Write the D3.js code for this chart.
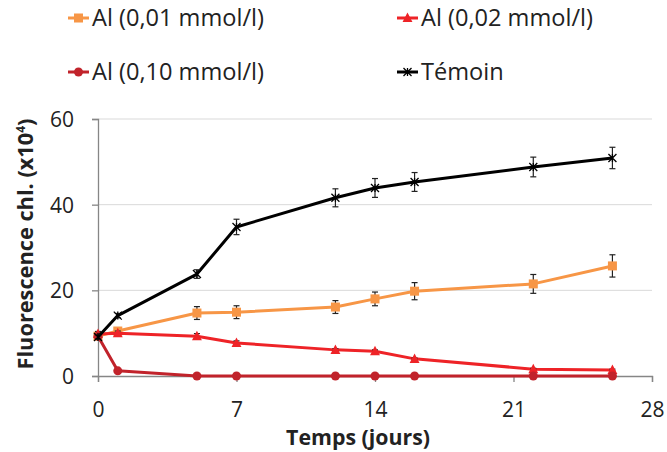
<!DOCTYPE html>
<html><head><meta charset="utf-8">
<script src="https://cdn.jsdelivr.net/npm/d3@7"></script>
<style>body{margin:0;background:#fff;} text{font-family:"Open Sans","Noto Sans",sans-serif;fill:#222;}</style>
</head><body><svg id="c" width="667" height="452"></svg>
<script>
const days = [0, 1, 5, 7, 12, 14, 16, 22, 26];
const al001 = [9.3, 10.5, 14.7, 14.9, 16.1, 18.0, 19.8, 21.5, 25.7];
const al001Err = [0.5, 0.6, 1.5, 1.5, 1.5, 1.6, 2.0, 2.2, 2.6];
const al002 = [9.8, 10.0, 9.3, 7.7, 6.1, 5.8, 4.0, 1.6, 1.4];
const al002Err = [0.6, 0.5, 0.6, 0.5, 0.3, 0.3, 0.2, 0.2, 0.2];
const al010 = [9.3, 1.2, 0, 0, 0, 0, 0, 0, 0];
const al010Err = [0.3, 0.2, 0, 0, 0, 0, 0, 0, 0];
const temoin = [9.1, 14.1, 23.8, 34.8, 41.6, 43.9, 45.3, 48.8, 50.9];
const temoinErr = [0.5, 0.5, 1.0, 1.8, 2.1, 2.2, 2.2, 2.3, 2.5];
const xTicks = [0, 7, 14, 21, 28];
const yTicks = [0, 20, 40, 60];
const seriesNames = ["Al (0,01 mmol/l)", "Al (0,02 mmol/l)", "Al (0,10 mmol/l)", "Témoin"];

const series = [
  {name: seriesNames[0], vals: al001, err: al001Err, color: "#F79646", marker: "square"},
  {name: seriesNames[1], vals: al002, err: al002Err, color: "#EE2327", marker: "triangle"},
  {name: seriesNames[2], vals: al010, err: al010Err, color: "#C1232B", marker: "circle"},
  {name: seriesNames[3], vals: temoin, err: temoinErr, color: "#000000", marker: "star"}
];

const svg = d3.select("#c");
const L = 98, R = 652, T = 119, B = 376;
const x = d3.scaleLinear().domain([0, 28]).range([L, R]);
const y = d3.scaleLinear().domain([0, 60]).range([B, T]);

function fit(sel, target) {
  const fs = parseFloat(sel.attr("font-size"));
  const w = sel.node().getComputedTextLength();
  if (w > 0) sel.attr("font-size", fs * target / w);
}

// gridlines
svg.append("g").selectAll("line").data(yTicks.filter(d => d > 0)).join("line")
  .attr("x1", L).attr("x2", R).attr("y1", d => y(d)).attr("y2", d => y(d))
  .attr("stroke", "#D9D9D9").attr("stroke-width", 1);

// axes
const gx = svg.append("g").attr("transform", `translate(0,${B})`)
  .call(d3.axisBottom(x).tickValues(xTicks).tickSize(6).tickPadding(20).tickFormat(d3.format("d")));
const gy = svg.append("g").attr("transform", `translate(${L},0)`)
  .call(d3.axisLeft(y).tickValues(yTicks).tickSize(6).tickPadding(18).tickFormat(d3.format("d")));
[gx, gy].forEach(g => {
  g.select(".domain").attr("stroke", "#868686").attr("stroke-width", 1.3);
  g.selectAll(".tick line").attr("stroke", "#868686").attr("stroke-width", 1.3);
  g.selectAll(".tick text").attr("font-size", 21).attr("fill", "#222").style("font-family", "'Open Sans', sans-serif");
});
gx.selectAll(".tick text").attr("dy", "0.72em");
gy.selectAll(".tick text").attr("dy", "0.36em");

// axis titles
const xt = svg.append("text").attr("x", 358).attr("y", 445).attr("text-anchor", "middle")
  .attr("font-size", 19).attr("font-weight", "bold").text("Temps (jours)");
fit(xt, 144);
const yt = svg.append("text").attr("transform", "translate(33,244) rotate(-90)")
  .attr("text-anchor", "middle").attr("font-size", 19).attr("font-weight", "bold");
yt.append("tspan").text("Fluorescence chl. (x10");
yt.append("tspan").attr("font-size", 12).attr("dy", -8).text("4");
yt.append("tspan").attr("dy", 8).text(")");
fit(yt, 252);

function drawMarker(g, type, cx, cy, color, s) {
  if (type === "square") {
    g.append("rect").attr("x", cx - s/2).attr("y", cy - s/2).attr("width", s).attr("height", s).attr("fill", color);
  } else if (type === "triangle") {
    const h = s;
    g.append("path").attr("d", `M${cx},${cy - h*0.6}L${cx + s*0.55},${cy + h*0.45}L${cx - s*0.55},${cy + h*0.45}Z`).attr("fill", color);
  } else if (type === "circle") {
    g.append("circle").attr("cx", cx).attr("cy", cy).attr("r", s/2).attr("fill", color);
  } else {
    const r = s/2;
    g.append("path").attr("d", `M${cx-r},${cy-r}L${cx+r},${cy+r}M${cx-r},${cy+r}L${cx+r},${cy-r}M${cx},${cy-r}L${cx},${cy+r}`)
      .attr("stroke", color).attr("stroke-width", 1.3).attr("fill", "none");
  }
}

const line = d3.line().x((d, i) => x(days[i])).y(d => y(d));
series.forEach(s => {
  const g = svg.append("g");
  g.append("path").datum(s.vals).attr("d", line).attr("fill", "none")
    .attr("stroke", s.color).attr("stroke-width", 3).attr("stroke-linejoin", "round");
  s.vals.forEach((v, i) => {
    const e = s.err[i];
    if (e <= 0) return;
    const cx = x(days[i]);
    const eg = g.append("g").attr("stroke", "#222").attr("stroke-width", 1.2);
    eg.append("line").attr("x1", cx).attr("x2", cx).attr("y1", y(v - e)).attr("y2", y(v + e));
    eg.append("line").attr("x1", cx - 3).attr("x2", cx + 3).attr("y1", y(v - e)).attr("y2", y(v - e));
    eg.append("line").attr("x1", cx - 3).attr("x2", cx + 3).attr("y1", y(v + e)).attr("y2", y(v + e));
  });
  s.vals.forEach((v, i) => drawMarker(g, s.marker, x(days[i]), y(v), s.color, s.marker === "star" ? 8 : 9));
});

// legend
const legPos = [[68, 18], [397, 18], [68, 72], [397, 72]];
let legFs = null;
series.forEach((s, i) => {
  const [lx, ly] = legPos[i];
  const g = svg.append("g");
  g.append("line").attr("x1", lx).attr("x2", lx + 21).attr("y1", ly).attr("y2", ly)
    .attr("stroke", s.color).attr("stroke-width", 3);
  drawMarker(g, s.marker, lx + 10.5, ly, s.color, s.marker === "star" ? 8 : 9);
  const t = g.append("text").attr("x", lx + 24).attr("y", ly).attr("dy", "0.36em")
    .attr("font-size", 21).text(s.name);
  if (i === 0) { fit(t, 172); legFs = t.attr("font-size"); }
  else t.attr("font-size", legFs);
});
</script></body></html>
